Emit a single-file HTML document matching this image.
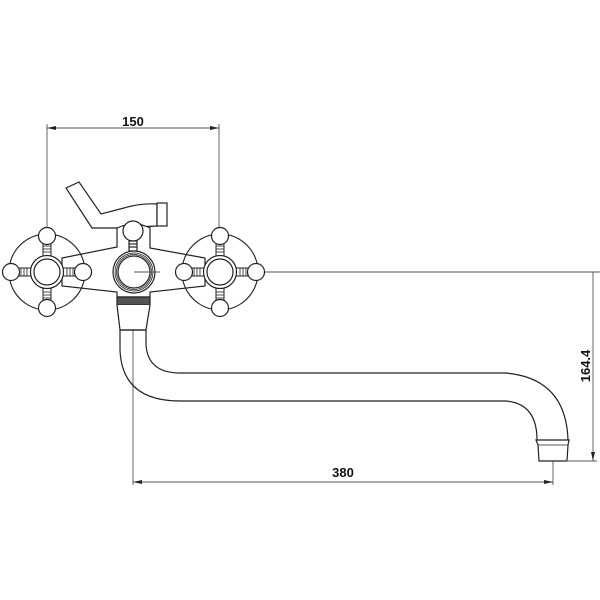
<!DOCTYPE html>
<html><head><style>html,body{margin:0;padding:0;background:#fff}svg{display:block}</style></head><body>
<svg width="600" height="600" viewBox="0 0 600 600" xmlns="http://www.w3.org/2000/svg">
<defs>
<g id="h">
  <circle r="38" fill="none" stroke="#222" stroke-width="1.2"/>
  <g id="arm">
    <rect x="-4" y="-29" width="8" height="13" fill="#fff" stroke="#222" stroke-width="1"/>
    <line x1="-4" y1="-26" x2="4" y2="-26" stroke="#222" stroke-width="0.8"/>
    <line x1="-4" y1="-23" x2="4" y2="-23" stroke="#222" stroke-width="0.8"/>
    <line x1="-4" y1="-20" x2="4" y2="-20" stroke="#222" stroke-width="0.8"/>
    <circle cy="-36" r="8.5" fill="#fff" stroke="#222" stroke-width="1.2"/>
  </g>
  <use href="#arm" transform="rotate(90)"/>
  <use href="#arm" transform="rotate(180)"/>
  <use href="#arm" transform="rotate(270)"/>
  <circle r="16.5" fill="#fff" stroke="#222" stroke-width="1.2"/>
  <circle r="13" fill="none" stroke="#222" stroke-width="1.2"/>
</g>
</defs>
<g fill="none" stroke="#222" stroke-width="1.2">
<!-- dims -->
<g stroke="#555" stroke-width="0.9">
<line x1="47" y1="128" x2="219" y2="128"/>
<line x1="47" y1="124" x2="47" y2="234"/>
<line x1="219" y1="124" x2="219" y2="234"/>
<line x1="133" y1="272" x2="600" y2="272"/>
<line x1="593" y1="272" x2="593" y2="461"/>
<line x1="568" y1="461" x2="597" y2="461"/>
<line x1="133" y1="330" x2="133" y2="485"/>
<line x1="553" y1="440" x2="553" y2="485"/>
<line x1="133" y1="482" x2="553" y2="482"/>
</g>
<g fill="#222" stroke="none">
<polygon points="47,128 56,126 56,130"/><polygon points="219,128 210,126 210,130"/>
<polygon points="133,482 142,480 142,484"/><polygon points="553,482 544,480 544,484"/>
<polygon points="593,461 591,452 595,452"/>
</g>
<!-- lever -->
<path d="M66,188 L79,182 L101,214 L124,208 Q140,203 157,204 L157,226 L117,228 L92,228 Z" fill="#fff"/>
<rect x="157" y="203" width="10" height="23" fill="#fff"/>
<!-- body -->
<path d="M117,228 L117,247 L62,258 L62,286 L117,292 L117,297 L150,297 L150,292 L205,286 L205,258 L150,248 L150,228 Q134,220 117,228 Z" fill="#fff"/>
<circle cx="133" cy="231" r="10" fill="#fff"/>
<rect x="129" y="241" width="8" height="10" fill="#fff"/>
<line x1="129" y1="244" x2="137" y2="244"/><line x1="129" y1="247" x2="137" y2="247"/>
<circle cx="134" cy="272" r="21" fill="#fff"/>
<circle cx="134" cy="272" r="19" stroke-width="0.8"/>
<circle cx="134" cy="272" r="17.5" stroke-width="0.8"/>
<circle cx="134" cy="272" r="16"/>
<line x1="134" y1="272" x2="160" y2="272" stroke="#555" stroke-width="0.9"/>
<rect x="117" y="297" width="33" height="8" fill="#555"/>
<path d="M117,305 L120,330 L146,330 L150,305" fill="#fff"/>
<!-- handles -->
<use href="#h" x="47" y="272"/>
<use href="#h" x="220" y="272"/>
<!-- spout -->
<path d="M120,330 L120,350 Q122,401 180,401 L505,401 Q537,403 537,440"/>
<path d="M146,330 L146,345 Q148,373 180,373 L505,373 Q566,378 568,440"/>
<line x1="120" y1="330" x2="146" y2="330"/>
<path d="M536,440 L569,440 L568,445 L567,461 L539,461 L538,445 Z" fill="#fff"/>
<line x1="538" y1="445" x2="568" y2="445" stroke-width="0.8"/>
</g>
<g font-family="Liberation Sans, sans-serif" font-weight="bold" font-size="13" fill="#111" text-anchor="middle">
<text x="133" y="126">150</text>
<text x="343" y="477">380</text>
<text transform="translate(590,366) rotate(-90)">164.4</text>
</g>
</svg>
</body></html>
